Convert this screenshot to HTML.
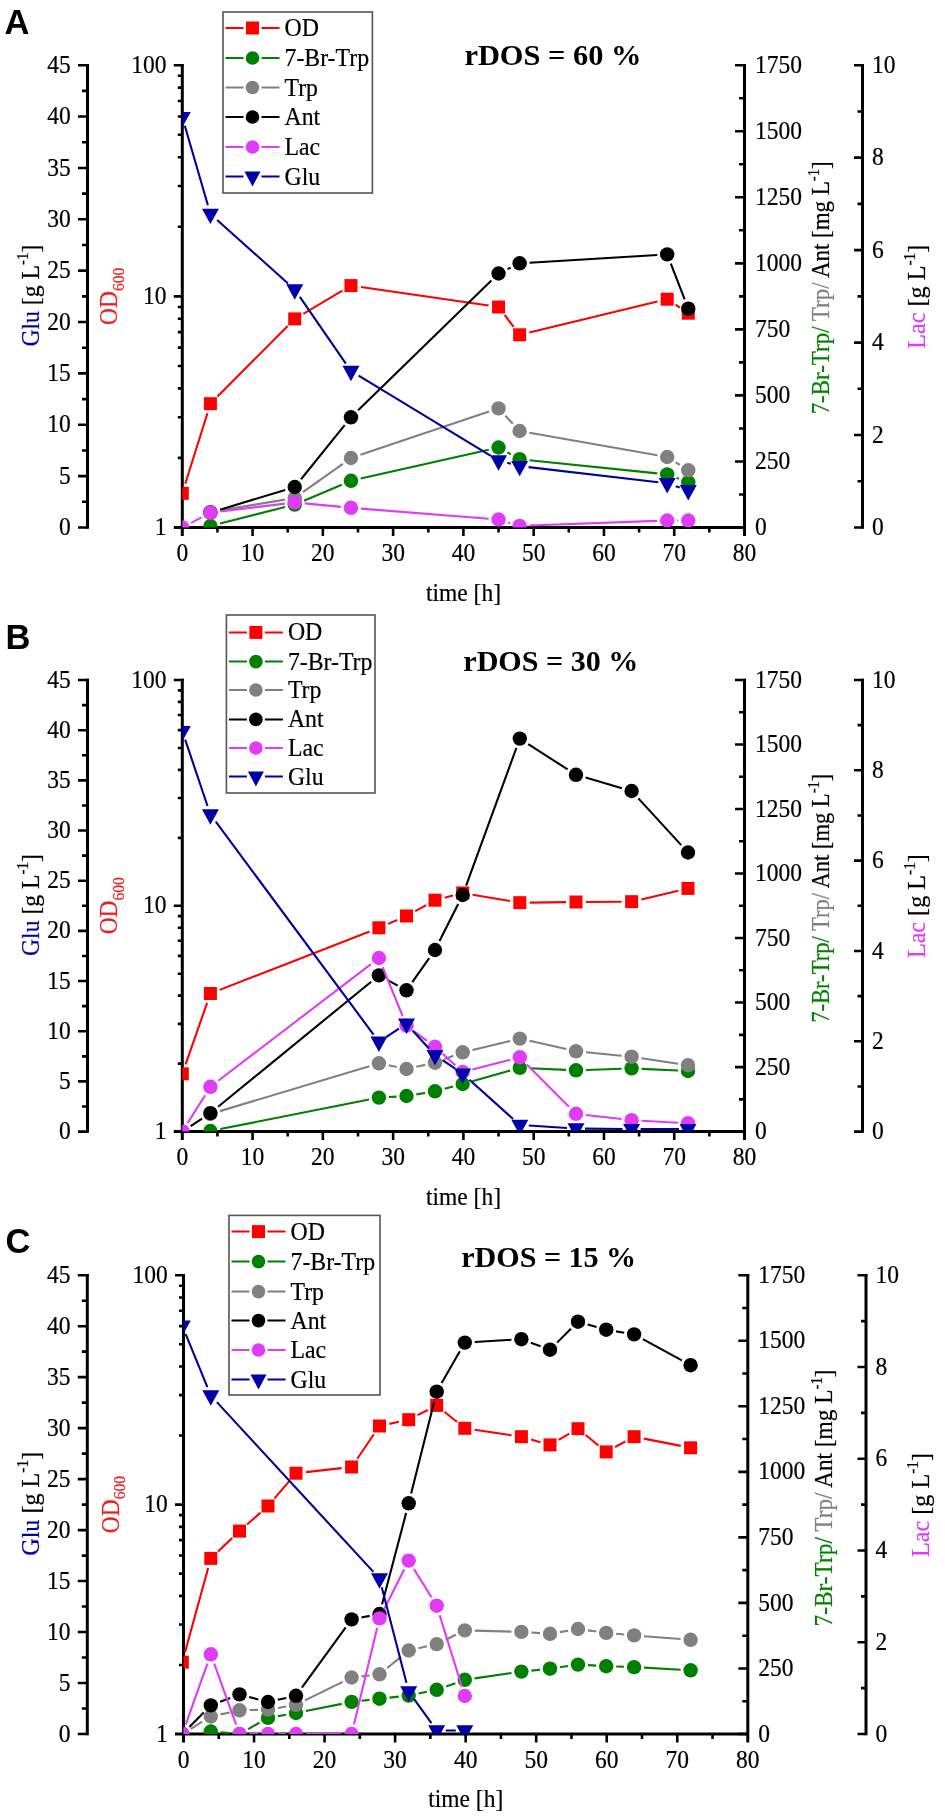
<!DOCTYPE html>
<html><head><meta charset="utf-8"><title>rDOS</title>
<style>html,body{margin:0;padding:0;background:#fff;}svg{display:block;filter:blur(0.35px);}text.s{stroke-width:0.45px;paint-order:stroke;}</style>
</head><body>
<svg width="945" height="1820" viewBox="0 0 945 1820">
<rect width="945" height="1820" fill="#fff"/>
<clipPath id="clipA"><rect x="182.3" y="65.2" width="562.2" height="462.3"/></clipPath><path d="M87.5 64V528.7M182.3 64V536M744.5 64V536M862.5 64V528.7M173.8 527.5H745.9" stroke="#000" stroke-width="3.0" fill="none"/><path d="M78 527.5H87.5M78 476.13H87.5M78 424.77H87.5M78 373.4H87.5M78 322.03H87.5M78 270.67H87.5M78 219.3H87.5M78 167.93H87.5M78 116.57H87.5M78 65.2H87.5M78 65.2H88.9M82 501.82H87.5M82 450.45H87.5M82 399.08H87.5M82 347.72H87.5M82 296.35H87.5M82 244.98H87.5M82 193.62H87.5M82 142.25H87.5M82 90.88H87.5M173.8 296.35H182.3M173.8 65.2H183.7M177.8 457.92H182.3M177.8 417.21H182.3M177.8 388.33H182.3M177.8 365.93H182.3M177.8 347.63H182.3M177.8 332.16H182.3M177.8 318.75H182.3M177.8 306.93H182.3M177.8 226.77H182.3M177.8 186.06H182.3M177.8 157.18H182.3M177.8 134.78H182.3M177.8 116.48H182.3M177.8 101.01H182.3M177.8 87.6H182.3M177.8 75.78H182.3M252.58 527.5V536M322.85 527.5V536M393.12 527.5V536M463.4 527.5V536M533.68 527.5V536M603.95 527.5V536M674.23 527.5V536M217.44 527.5V532.5M287.71 527.5V532.5M357.99 527.5V532.5M428.26 527.5V532.5M498.54 527.5V532.5M568.81 527.5V532.5M639.09 527.5V532.5M709.36 527.5V532.5M735 527.5H744.5M735 461.46H744.5M735 395.41H744.5M735 329.37H744.5M735 263.33H744.5M735 197.29H744.5M735 131.24H744.5M735 65.2H744.5M735 65.2H745.9M739 494.48H744.5M739 428.44H744.5M739 362.39H744.5M739 296.35H744.5M739 230.31H744.5M739 164.26H744.5M739 98.22H744.5M854 527.5H862.5M854 435.04H862.5M854 342.58H862.5M854 250.12H862.5M854 157.66H862.5M854 65.2H863.9M857.5 481.27H862.5M857.5 388.81H862.5M857.5 296.35H862.5M857.5 203.89H862.5M857.5 111.43H862.5" stroke="#000" stroke-width="2.6" fill="none"/><text transform="translate(70.8 535.1) scale(1 1.06)" font-family='"Liberation Serif", serif' font-size="23.5" text-anchor="end" fill="#000" stroke="#000" stroke-width="0.2" font-weight="normal">0</text><text transform="translate(70.8 483.73) scale(1 1.06)" font-family='"Liberation Serif", serif' font-size="23.5" text-anchor="end" fill="#000" stroke="#000" stroke-width="0.2" font-weight="normal">5</text><text transform="translate(70.8 432.37) scale(1 1.06)" font-family='"Liberation Serif", serif' font-size="23.5" text-anchor="end" fill="#000" stroke="#000" stroke-width="0.2" font-weight="normal">10</text><text transform="translate(70.8 381) scale(1 1.06)" font-family='"Liberation Serif", serif' font-size="23.5" text-anchor="end" fill="#000" stroke="#000" stroke-width="0.2" font-weight="normal">15</text><text transform="translate(70.8 329.63) scale(1 1.06)" font-family='"Liberation Serif", serif' font-size="23.5" text-anchor="end" fill="#000" stroke="#000" stroke-width="0.2" font-weight="normal">20</text><text transform="translate(70.8 278.27) scale(1 1.06)" font-family='"Liberation Serif", serif' font-size="23.5" text-anchor="end" fill="#000" stroke="#000" stroke-width="0.2" font-weight="normal">25</text><text transform="translate(70.8 226.9) scale(1 1.06)" font-family='"Liberation Serif", serif' font-size="23.5" text-anchor="end" fill="#000" stroke="#000" stroke-width="0.2" font-weight="normal">30</text><text transform="translate(70.8 175.53) scale(1 1.06)" font-family='"Liberation Serif", serif' font-size="23.5" text-anchor="end" fill="#000" stroke="#000" stroke-width="0.2" font-weight="normal">35</text><text transform="translate(70.8 124.17) scale(1 1.06)" font-family='"Liberation Serif", serif' font-size="23.5" text-anchor="end" fill="#000" stroke="#000" stroke-width="0.2" font-weight="normal">40</text><text transform="translate(70.8 72.8) scale(1 1.06)" font-family='"Liberation Serif", serif' font-size="23.5" text-anchor="end" fill="#000" stroke="#000" stroke-width="0.2" font-weight="normal">45</text><text transform="translate(166.5 535.1) scale(1 1.06)" font-family='"Liberation Serif", serif' font-size="23.5" text-anchor="end" fill="#000" stroke="#000" stroke-width="0.2" font-weight="normal">1</text><text transform="translate(166.5 303.95) scale(1 1.06)" font-family='"Liberation Serif", serif' font-size="23.5" text-anchor="end" fill="#000" stroke="#000" stroke-width="0.2" font-weight="normal">10</text><text transform="translate(166.5 72.8) scale(1 1.06)" font-family='"Liberation Serif", serif' font-size="23.5" text-anchor="end" fill="#000" stroke="#000" stroke-width="0.2" font-weight="normal">100</text><text transform="translate(182.3 561) scale(1 1.06)" font-family='"Liberation Serif", serif' font-size="23.5" text-anchor="middle" fill="#000" stroke="#000" stroke-width="0.2" font-weight="normal">0</text><text transform="translate(252.58 561) scale(1 1.06)" font-family='"Liberation Serif", serif' font-size="23.5" text-anchor="middle" fill="#000" stroke="#000" stroke-width="0.2" font-weight="normal">10</text><text transform="translate(322.85 561) scale(1 1.06)" font-family='"Liberation Serif", serif' font-size="23.5" text-anchor="middle" fill="#000" stroke="#000" stroke-width="0.2" font-weight="normal">20</text><text transform="translate(393.12 561) scale(1 1.06)" font-family='"Liberation Serif", serif' font-size="23.5" text-anchor="middle" fill="#000" stroke="#000" stroke-width="0.2" font-weight="normal">30</text><text transform="translate(463.4 561) scale(1 1.06)" font-family='"Liberation Serif", serif' font-size="23.5" text-anchor="middle" fill="#000" stroke="#000" stroke-width="0.2" font-weight="normal">40</text><text transform="translate(533.68 561) scale(1 1.06)" font-family='"Liberation Serif", serif' font-size="23.5" text-anchor="middle" fill="#000" stroke="#000" stroke-width="0.2" font-weight="normal">50</text><text transform="translate(603.95 561) scale(1 1.06)" font-family='"Liberation Serif", serif' font-size="23.5" text-anchor="middle" fill="#000" stroke="#000" stroke-width="0.2" font-weight="normal">60</text><text transform="translate(674.23 561) scale(1 1.06)" font-family='"Liberation Serif", serif' font-size="23.5" text-anchor="middle" fill="#000" stroke="#000" stroke-width="0.2" font-weight="normal">70</text><text transform="translate(744.5 561) scale(1 1.06)" font-family='"Liberation Serif", serif' font-size="23.5" text-anchor="middle" fill="#000" stroke="#000" stroke-width="0.2" font-weight="normal">80</text><text transform="translate(755 535.1) scale(1 1.06)" font-family='"Liberation Serif", serif' font-size="23.5" text-anchor="start" fill="#000" stroke="#000" stroke-width="0.2" font-weight="normal">0</text><text transform="translate(755 469.06) scale(1 1.06)" font-family='"Liberation Serif", serif' font-size="23.5" text-anchor="start" fill="#000" stroke="#000" stroke-width="0.2" font-weight="normal">250</text><text transform="translate(755 403.01) scale(1 1.06)" font-family='"Liberation Serif", serif' font-size="23.5" text-anchor="start" fill="#000" stroke="#000" stroke-width="0.2" font-weight="normal">500</text><text transform="translate(755 336.97) scale(1 1.06)" font-family='"Liberation Serif", serif' font-size="23.5" text-anchor="start" fill="#000" stroke="#000" stroke-width="0.2" font-weight="normal">750</text><text transform="translate(755 270.93) scale(1 1.06)" font-family='"Liberation Serif", serif' font-size="23.5" text-anchor="start" fill="#000" stroke="#000" stroke-width="0.2" font-weight="normal">1000</text><text transform="translate(755 204.89) scale(1 1.06)" font-family='"Liberation Serif", serif' font-size="23.5" text-anchor="start" fill="#000" stroke="#000" stroke-width="0.2" font-weight="normal">1250</text><text transform="translate(755 138.84) scale(1 1.06)" font-family='"Liberation Serif", serif' font-size="23.5" text-anchor="start" fill="#000" stroke="#000" stroke-width="0.2" font-weight="normal">1500</text><text transform="translate(755 72.8) scale(1 1.06)" font-family='"Liberation Serif", serif' font-size="23.5" text-anchor="start" fill="#000" stroke="#000" stroke-width="0.2" font-weight="normal">1750</text><text transform="translate(872 535.1) scale(1 1.06)" font-family='"Liberation Serif", serif' font-size="23.5" text-anchor="start" fill="#000" stroke="#000" stroke-width="0.2" font-weight="normal">0</text><text transform="translate(872 442.64) scale(1 1.06)" font-family='"Liberation Serif", serif' font-size="23.5" text-anchor="start" fill="#000" stroke="#000" stroke-width="0.2" font-weight="normal">2</text><text transform="translate(872 350.18) scale(1 1.06)" font-family='"Liberation Serif", serif' font-size="23.5" text-anchor="start" fill="#000" stroke="#000" stroke-width="0.2" font-weight="normal">4</text><text transform="translate(872 257.72) scale(1 1.06)" font-family='"Liberation Serif", serif' font-size="23.5" text-anchor="start" fill="#000" stroke="#000" stroke-width="0.2" font-weight="normal">6</text><text transform="translate(872 165.26) scale(1 1.06)" font-family='"Liberation Serif", serif' font-size="23.5" text-anchor="start" fill="#000" stroke="#000" stroke-width="0.2" font-weight="normal">8</text><text transform="translate(872 72.8) scale(1 1.06)" font-family='"Liberation Serif", serif' font-size="23.5" text-anchor="start" fill="#000" stroke="#000" stroke-width="0.2" font-weight="normal">10</text><text transform="translate(463.5 600.8) scale(1 1.1)" font-family='"Liberation Serif", serif' font-size="23.5" text-anchor="middle" fill="#000" stroke="#000" stroke-width="0.2" font-weight="normal">time [h]</text><text transform="translate(38.6 295.55) rotate(-90) scale(1 1.08)" font-family='"Liberation Serif", serif' font-size="23.5" text-anchor="middle" stroke="#000" stroke-width="0.2" textLength="102" lengthAdjust="spacingAndGlyphs"><tspan fill="#0000a8" stroke="#0000a8">Glu</tspan><tspan fill="#000" stroke="#000"> [g L</tspan><tspan font-size="15" dy="-9.5">-1</tspan><tspan dy="9.5">]</tspan></text><text transform="translate(117.3 296.35) rotate(-90) scale(1 1.08)" font-family='"Liberation Serif", serif' font-size="23.5" text-anchor="middle" fill="#ee1c1c" stroke="#ee1c1c" stroke-width="0.2">OD<tspan font-size="15.5" dy="6">600</tspan></text><text transform="translate(828.8 287.85) rotate(-90) scale(1 1.08)" font-family='"Liberation Serif", serif' font-size="23.5" text-anchor="middle" stroke="#000" stroke-width="0.2" textLength="253" lengthAdjust="spacingAndGlyphs"><tspan fill="#008000" stroke="#008000">7-Br-Trp/</tspan><tspan fill="#808080" stroke="#808080"> Trp/</tspan><tspan fill="#000" stroke="#000"> Ant [mg L</tspan><tspan font-size="15" dy="-9.5">-1</tspan><tspan dy="9.5">]</tspan></text><text transform="translate(925 296.65) rotate(-90) scale(1 1.08)" font-family='"Liberation Serif", serif' font-size="23.5" text-anchor="middle" stroke="#000" stroke-width="0.2" textLength="104" lengthAdjust="spacingAndGlyphs"><tspan fill="#e03cf8" stroke="#e03cf8">Lac</tspan><tspan fill="#000" stroke="#000"> [g L</tspan><tspan font-size="15" dy="-9.5">-1</tspan><tspan dy="9.5">]</tspan></text><text x="4.4" y="34.3" font-family='"Liberation Sans", sans-serif' font-size="34.5" text-anchor="start" fill="#000" stroke="#000" stroke-width="0" font-weight="bold">A</text><text x="464.4" y="65.4" font-family='"Liberation Serif", serif' font-size="29.5" text-anchor="start" fill="#000" stroke="#000" stroke-width="0" font-weight="bold" textLength="177" lengthAdjust="spacingAndGlyphs">rDOS = 60 %</text><g clip-path="url(#clipA)"><path d="M185.29 483.76L207.42 413.24M217.46 396.61L287.69 325.99M303.34 313.8L342.36 290.7M360.86 287.04L488.64 305.56M504.58 314.97L513.58 326.83M529.34 332.45L657.48 301.55M675.53 304.73L679.95 307.67" stroke="#ff0000" stroke-width="2.1" fill="none"/><rect x="175.8" y="486.8" width="13.0" height="13.0" fill="#ff0000"/><rect x="203.91" y="397.2" width="13.0" height="13.0" fill="#ff0000"/><rect x="288.24" y="312.4" width="13.0" height="13.0" fill="#ff0000"/><rect x="344.46" y="279.1" width="13.0" height="13.0" fill="#ff0000"/><rect x="492.04" y="300.5" width="13.0" height="13.0" fill="#ff0000"/><rect x="513.12" y="328.3" width="13.0" height="13.0" fill="#ff0000"/><rect x="660.7" y="292.7" width="13.0" height="13.0" fill="#ff0000"/><rect x="681.78" y="306.7" width="13.0" height="13.0" fill="#ff0000"/><path d="M220.1 523.54L285.05 507.06M303.95 500.7L341.75 484.7M360.71 478.6L488.78 449.7M507.28 452.35L510.88 454.35M529.57 460.22L657.25 473.38M676.55 477.95L678.93 478.85" stroke="#008000" stroke-width="2.1" fill="none"/><circle cx="210.41" cy="526" r="7.2" fill="#008000"/><circle cx="294.74" cy="504.6" r="7.2" fill="#008000"/><circle cx="350.96" cy="480.8" r="7.2" fill="#008000"/><circle cx="498.54" cy="447.5" r="7.2" fill="#008000"/><circle cx="519.62" cy="459.2" r="7.2" fill="#008000"/><circle cx="667.2" cy="474.4" r="7.2" fill="#008000"/><circle cx="688.28" cy="482.4" r="7.2" fill="#008000"/><path d="M220.27 510.36L284.88 499.64M302.89 492.2L342.81 463.8M360.44 454.81L489.06 411.59M505.36 415.71L512.8 423.69M529.47 432.74L657.35 455.26M675.66 462.34L679.82 464.96" stroke="#808080" stroke-width="2.1" fill="none"/><circle cx="210.41" cy="512" r="7.2" fill="#808080"/><circle cx="294.74" cy="498" r="7.2" fill="#808080"/><circle cx="350.96" cy="458" r="7.2" fill="#808080"/><circle cx="498.54" cy="408.4" r="7.2" fill="#808080"/><circle cx="519.62" cy="431" r="7.2" fill="#808080"/><circle cx="667.2" cy="457" r="7.2" fill="#808080"/><circle cx="688.28" cy="470.3" r="7.2" fill="#808080"/><path d="M219.98 509.7L285.17 489.9M301.02 479.22L344.68 425.08M358.12 410.32L491.38 280.48M507.54 269.14L510.62 267.66M529.6 262.7L657.22 255M670.82 263.72L684.66 299.38" stroke="#000000" stroke-width="2.1" fill="none"/><circle cx="210.41" cy="512.6" r="7.2" fill="#000000"/><circle cx="294.74" cy="487" r="7.2" fill="#000000"/><circle cx="350.96" cy="417.3" r="7.2" fill="#000000"/><circle cx="498.54" cy="273.5" r="7.2" fill="#000000"/><circle cx="519.62" cy="263.3" r="7.2" fill="#000000"/><circle cx="667.2" cy="254.4" r="7.2" fill="#000000"/><circle cx="688.28" cy="308.7" r="7.2" fill="#000000"/><path d="M191.16 522.87L201.55 517.43M220.33 511.58L284.82 503.62M304.69 503.36L341.01 506.84M360.93 508.59L488.57 518.71M508.11 522.4L510.05 523M529.61 525.53L657.2 520.87M677.2 520.5L678.28 520.5" stroke="#e03cf8" stroke-width="2.1" fill="none"/><circle cx="182.3" cy="527.5" r="7.2" fill="#e03cf8"/><circle cx="210.41" cy="512.8" r="7.2" fill="#e03cf8"/><circle cx="294.74" cy="502.4" r="7.2" fill="#e03cf8"/><circle cx="350.96" cy="507.8" r="7.2" fill="#e03cf8"/><circle cx="498.54" cy="519.5" r="7.2" fill="#e03cf8"/><circle cx="519.62" cy="525.9" r="7.2" fill="#e03cf8"/><circle cx="667.2" cy="520.5" r="7.2" fill="#e03cf8"/><circle cx="688.28" cy="520.5" r="7.2" fill="#e03cf8"/><path d="M184.81 125.74L207.9 205.26M217.11 219.91L288.04 283.49M299.85 296.91L345.85 363.59M358.66 375.67L490.84 455.83M507.24 462.81L510.92 463.79M528.56 467.14L658.26 482.26M675.74 486.14L679.74 487.46" stroke="#00009a" stroke-width="2.1" fill="none"/><path d="M173.8 111.9L190.8 111.9L182.3 127.3ZM201.91 208.7L218.91 208.7L210.41 224.1ZM286.24 284.3L303.24 284.3L294.74 299.7ZM342.46 365.8L359.46 365.8L350.96 381.2ZM490.04 455.3L507.04 455.3L498.54 470.7ZM511.12 460.9L528.12 460.9L519.62 476.3ZM658.7 478.1L675.7 478.1L667.2 493.5ZM679.78 485.1L696.78 485.1L688.28 500.5Z" fill="#0000a8"/></g><rect x="223" y="12" width="149.4" height="181" fill="#fff" stroke="#555" stroke-width="1.6"/><path d="M225.5 28H243.5M261.5 28H279.5" stroke="#ff0000" stroke-width="2"/><rect x="246" y="21.5" width="13.0" height="13.0" fill="#ff0000"/><text transform="translate(284.5 36) scale(1 1.03)" font-family='"Liberation Serif", serif' font-size="23.8" text-anchor="start" fill="#000" stroke="#000" stroke-width="0.2" font-weight="normal">OD</text><path d="M225.5 58H243.5M261.5 58H279.5" stroke="#008000" stroke-width="2"/><circle cx="252.5" cy="58" r="6.8" fill="#008000"/><text transform="translate(284.5 66) scale(1 1.03)" font-family='"Liberation Serif", serif' font-size="23.8" text-anchor="start" fill="#000" stroke="#000" stroke-width="0.2" font-weight="normal">7-Br-Trp</text><path d="M225.5 87.5H243.5M261.5 87.5H279.5" stroke="#808080" stroke-width="2"/><circle cx="252.5" cy="87.5" r="6.8" fill="#808080"/><text transform="translate(284.5 95.5) scale(1 1.03)" font-family='"Liberation Serif", serif' font-size="23.8" text-anchor="start" fill="#000" stroke="#000" stroke-width="0.2" font-weight="normal">Trp</text><path d="M225.5 117H243.5M261.5 117H279.5" stroke="#000000" stroke-width="2"/><circle cx="252.5" cy="117" r="6.8" fill="#000000"/><text transform="translate(284.5 125) scale(1 1.03)" font-family='"Liberation Serif", serif' font-size="23.8" text-anchor="start" fill="#000" stroke="#000" stroke-width="0.2" font-weight="normal">Ant</text><path d="M225.5 147H243.5M261.5 147H279.5" stroke="#e03cf8" stroke-width="2"/><circle cx="252.5" cy="147" r="6.8" fill="#e03cf8"/><text transform="translate(284.5 155) scale(1 1.03)" font-family='"Liberation Serif", serif' font-size="23.8" text-anchor="start" fill="#000" stroke="#000" stroke-width="0.2" font-weight="normal">Lac</text><path d="M225.5 176.5H243.5M261.5 176.5H279.5" stroke="#0000a8" stroke-width="2"/><path d="M244.5 171.4L260.5 171.4L252.5 186.4Z" fill="#0000a8"/><text transform="translate(284.5 184.5) scale(1 1.03)" font-family='"Liberation Serif", serif' font-size="23.8" text-anchor="start" fill="#000" stroke="#000" stroke-width="0.2" font-weight="normal">Glu</text><clipPath id="clipB"><rect x="182.3" y="680" width="562.2" height="451.6"/></clipPath><path d="M87.5 678.8V1132.8M182.3 678.8V1140.1M744.5 678.8V1140.1M862.5 678.8V1132.8M173.8 1131.6H745.9" stroke="#000" stroke-width="3.0" fill="none"/><path d="M78 1131.6H87.5M78 1081.42H87.5M78 1031.24H87.5M78 981.07H87.5M78 930.89H87.5M78 880.71H87.5M78 830.53H87.5M78 780.36H87.5M78 730.18H87.5M78 680H87.5M78 680H88.9M82 1106.51H87.5M82 1056.33H87.5M82 1006.16H87.5M82 955.98H87.5M82 905.8H87.5M82 855.62H87.5M82 805.44H87.5M82 755.27H87.5M82 705.09H87.5M173.8 905.8H182.3M173.8 680H183.7M177.8 1063.63H182.3M177.8 1023.87H182.3M177.8 995.65H182.3M177.8 973.77H182.3M177.8 955.89H182.3M177.8 940.78H182.3M177.8 927.68H182.3M177.8 916.13H182.3M177.8 837.83H182.3M177.8 798.07H182.3M177.8 769.85H182.3M177.8 747.97H182.3M177.8 730.09H182.3M177.8 714.98H182.3M177.8 701.88H182.3M177.8 690.33H182.3M252.58 1131.6V1140.1M322.85 1131.6V1140.1M393.12 1131.6V1140.1M463.4 1131.6V1140.1M533.68 1131.6V1140.1M603.95 1131.6V1140.1M674.23 1131.6V1140.1M217.44 1131.6V1136.6M287.71 1131.6V1136.6M357.99 1131.6V1136.6M428.26 1131.6V1136.6M498.54 1131.6V1136.6M568.81 1131.6V1136.6M639.09 1131.6V1136.6M709.36 1131.6V1136.6M735 1131.6H744.5M735 1067.09H744.5M735 1002.57H744.5M735 938.06H744.5M735 873.54H744.5M735 809.03H744.5M735 744.51H744.5M735 680H744.5M735 680H745.9M739 1099.34H744.5M739 1034.83H744.5M739 970.31H744.5M739 905.8H744.5M739 841.29H744.5M739 776.77H744.5M739 712.26H744.5M854 1131.6H862.5M854 1041.28H862.5M854 950.96H862.5M854 860.64H862.5M854 770.32H862.5M854 680H863.9M857.5 1086.44H862.5M857.5 996.12H862.5M857.5 905.8H862.5M857.5 815.48H862.5M857.5 725.16H862.5" stroke="#000" stroke-width="2.6" fill="none"/><text transform="translate(70.8 1139.2) scale(1 1.06)" font-family='"Liberation Serif", serif' font-size="23.5" text-anchor="end" fill="#000" stroke="#000" stroke-width="0.2" font-weight="normal">0</text><text transform="translate(70.8 1089.02) scale(1 1.06)" font-family='"Liberation Serif", serif' font-size="23.5" text-anchor="end" fill="#000" stroke="#000" stroke-width="0.2" font-weight="normal">5</text><text transform="translate(70.8 1038.84) scale(1 1.06)" font-family='"Liberation Serif", serif' font-size="23.5" text-anchor="end" fill="#000" stroke="#000" stroke-width="0.2" font-weight="normal">10</text><text transform="translate(70.8 988.67) scale(1 1.06)" font-family='"Liberation Serif", serif' font-size="23.5" text-anchor="end" fill="#000" stroke="#000" stroke-width="0.2" font-weight="normal">15</text><text transform="translate(70.8 938.49) scale(1 1.06)" font-family='"Liberation Serif", serif' font-size="23.5" text-anchor="end" fill="#000" stroke="#000" stroke-width="0.2" font-weight="normal">20</text><text transform="translate(70.8 888.31) scale(1 1.06)" font-family='"Liberation Serif", serif' font-size="23.5" text-anchor="end" fill="#000" stroke="#000" stroke-width="0.2" font-weight="normal">25</text><text transform="translate(70.8 838.13) scale(1 1.06)" font-family='"Liberation Serif", serif' font-size="23.5" text-anchor="end" fill="#000" stroke="#000" stroke-width="0.2" font-weight="normal">30</text><text transform="translate(70.8 787.96) scale(1 1.06)" font-family='"Liberation Serif", serif' font-size="23.5" text-anchor="end" fill="#000" stroke="#000" stroke-width="0.2" font-weight="normal">35</text><text transform="translate(70.8 737.78) scale(1 1.06)" font-family='"Liberation Serif", serif' font-size="23.5" text-anchor="end" fill="#000" stroke="#000" stroke-width="0.2" font-weight="normal">40</text><text transform="translate(70.8 687.6) scale(1 1.06)" font-family='"Liberation Serif", serif' font-size="23.5" text-anchor="end" fill="#000" stroke="#000" stroke-width="0.2" font-weight="normal">45</text><text transform="translate(166.5 1139.2) scale(1 1.06)" font-family='"Liberation Serif", serif' font-size="23.5" text-anchor="end" fill="#000" stroke="#000" stroke-width="0.2" font-weight="normal">1</text><text transform="translate(166.5 913.4) scale(1 1.06)" font-family='"Liberation Serif", serif' font-size="23.5" text-anchor="end" fill="#000" stroke="#000" stroke-width="0.2" font-weight="normal">10</text><text transform="translate(166.5 687.6) scale(1 1.06)" font-family='"Liberation Serif", serif' font-size="23.5" text-anchor="end" fill="#000" stroke="#000" stroke-width="0.2" font-weight="normal">100</text><text transform="translate(182.3 1165.1) scale(1 1.06)" font-family='"Liberation Serif", serif' font-size="23.5" text-anchor="middle" fill="#000" stroke="#000" stroke-width="0.2" font-weight="normal">0</text><text transform="translate(252.58 1165.1) scale(1 1.06)" font-family='"Liberation Serif", serif' font-size="23.5" text-anchor="middle" fill="#000" stroke="#000" stroke-width="0.2" font-weight="normal">10</text><text transform="translate(322.85 1165.1) scale(1 1.06)" font-family='"Liberation Serif", serif' font-size="23.5" text-anchor="middle" fill="#000" stroke="#000" stroke-width="0.2" font-weight="normal">20</text><text transform="translate(393.12 1165.1) scale(1 1.06)" font-family='"Liberation Serif", serif' font-size="23.5" text-anchor="middle" fill="#000" stroke="#000" stroke-width="0.2" font-weight="normal">30</text><text transform="translate(463.4 1165.1) scale(1 1.06)" font-family='"Liberation Serif", serif' font-size="23.5" text-anchor="middle" fill="#000" stroke="#000" stroke-width="0.2" font-weight="normal">40</text><text transform="translate(533.68 1165.1) scale(1 1.06)" font-family='"Liberation Serif", serif' font-size="23.5" text-anchor="middle" fill="#000" stroke="#000" stroke-width="0.2" font-weight="normal">50</text><text transform="translate(603.95 1165.1) scale(1 1.06)" font-family='"Liberation Serif", serif' font-size="23.5" text-anchor="middle" fill="#000" stroke="#000" stroke-width="0.2" font-weight="normal">60</text><text transform="translate(674.23 1165.1) scale(1 1.06)" font-family='"Liberation Serif", serif' font-size="23.5" text-anchor="middle" fill="#000" stroke="#000" stroke-width="0.2" font-weight="normal">70</text><text transform="translate(744.5 1165.1) scale(1 1.06)" font-family='"Liberation Serif", serif' font-size="23.5" text-anchor="middle" fill="#000" stroke="#000" stroke-width="0.2" font-weight="normal">80</text><text transform="translate(755 1139.2) scale(1 1.06)" font-family='"Liberation Serif", serif' font-size="23.5" text-anchor="start" fill="#000" stroke="#000" stroke-width="0.2" font-weight="normal">0</text><text transform="translate(755 1074.69) scale(1 1.06)" font-family='"Liberation Serif", serif' font-size="23.5" text-anchor="start" fill="#000" stroke="#000" stroke-width="0.2" font-weight="normal">250</text><text transform="translate(755 1010.17) scale(1 1.06)" font-family='"Liberation Serif", serif' font-size="23.5" text-anchor="start" fill="#000" stroke="#000" stroke-width="0.2" font-weight="normal">500</text><text transform="translate(755 945.66) scale(1 1.06)" font-family='"Liberation Serif", serif' font-size="23.5" text-anchor="start" fill="#000" stroke="#000" stroke-width="0.2" font-weight="normal">750</text><text transform="translate(755 881.14) scale(1 1.06)" font-family='"Liberation Serif", serif' font-size="23.5" text-anchor="start" fill="#000" stroke="#000" stroke-width="0.2" font-weight="normal">1000</text><text transform="translate(755 816.63) scale(1 1.06)" font-family='"Liberation Serif", serif' font-size="23.5" text-anchor="start" fill="#000" stroke="#000" stroke-width="0.2" font-weight="normal">1250</text><text transform="translate(755 752.11) scale(1 1.06)" font-family='"Liberation Serif", serif' font-size="23.5" text-anchor="start" fill="#000" stroke="#000" stroke-width="0.2" font-weight="normal">1500</text><text transform="translate(755 687.6) scale(1 1.06)" font-family='"Liberation Serif", serif' font-size="23.5" text-anchor="start" fill="#000" stroke="#000" stroke-width="0.2" font-weight="normal">1750</text><text transform="translate(872 1139.2) scale(1 1.06)" font-family='"Liberation Serif", serif' font-size="23.5" text-anchor="start" fill="#000" stroke="#000" stroke-width="0.2" font-weight="normal">0</text><text transform="translate(872 1048.88) scale(1 1.06)" font-family='"Liberation Serif", serif' font-size="23.5" text-anchor="start" fill="#000" stroke="#000" stroke-width="0.2" font-weight="normal">2</text><text transform="translate(872 958.56) scale(1 1.06)" font-family='"Liberation Serif", serif' font-size="23.5" text-anchor="start" fill="#000" stroke="#000" stroke-width="0.2" font-weight="normal">4</text><text transform="translate(872 868.24) scale(1 1.06)" font-family='"Liberation Serif", serif' font-size="23.5" text-anchor="start" fill="#000" stroke="#000" stroke-width="0.2" font-weight="normal">6</text><text transform="translate(872 777.92) scale(1 1.06)" font-family='"Liberation Serif", serif' font-size="23.5" text-anchor="start" fill="#000" stroke="#000" stroke-width="0.2" font-weight="normal">8</text><text transform="translate(872 687.6) scale(1 1.06)" font-family='"Liberation Serif", serif' font-size="23.5" text-anchor="start" fill="#000" stroke="#000" stroke-width="0.2" font-weight="normal">10</text><text transform="translate(463.5 1204.9) scale(1 1.1)" font-family='"Liberation Serif", serif' font-size="23.5" text-anchor="middle" fill="#000" stroke="#000" stroke-width="0.2" font-weight="normal">time [h]</text><text transform="translate(38.6 905) rotate(-90) scale(1 1.08)" font-family='"Liberation Serif", serif' font-size="23.5" text-anchor="middle" stroke="#000" stroke-width="0.2" textLength="102" lengthAdjust="spacingAndGlyphs"><tspan fill="#0000a8" stroke="#0000a8">Glu</tspan><tspan fill="#000" stroke="#000"> [g L</tspan><tspan font-size="15" dy="-9.5">-1</tspan><tspan dy="9.5">]</tspan></text><text transform="translate(117.3 905.8) rotate(-90) scale(1 1.08)" font-family='"Liberation Serif", serif' font-size="23.5" text-anchor="middle" fill="#ee1c1c" stroke="#ee1c1c" stroke-width="0.2">OD<tspan font-size="15.5" dy="6">600</tspan></text><text transform="translate(828.8 898.3) rotate(-90) scale(1 1.08)" font-family='"Liberation Serif", serif' font-size="23.5" text-anchor="middle" stroke="#000" stroke-width="0.2" textLength="249" lengthAdjust="spacingAndGlyphs"><tspan fill="#008000" stroke="#008000">7-Br-Trp/</tspan><tspan fill="#808080" stroke="#808080"> Trp/</tspan><tspan fill="#000" stroke="#000"> Ant [mg L</tspan><tspan font-size="15" dy="-9.5">-1</tspan><tspan dy="9.5">]</tspan></text><text transform="translate(925 906.1) rotate(-90) scale(1 1.08)" font-family='"Liberation Serif", serif' font-size="23.5" text-anchor="middle" stroke="#000" stroke-width="0.2" textLength="104" lengthAdjust="spacingAndGlyphs"><tspan fill="#e03cf8" stroke="#e03cf8">Lac</tspan><tspan fill="#000" stroke="#000"> [g L</tspan><tspan font-size="15" dy="-9.5">-1</tspan><tspan dy="9.5">]</tspan></text><text x="5.4" y="648.6" font-family='"Liberation Sans", sans-serif' font-size="34.5" text-anchor="start" fill="#000" stroke="#000" stroke-width="0" font-weight="bold">B</text><text x="463.3" y="671.1" font-family='"Liberation Serif", serif' font-size="29.5" text-anchor="start" fill="#000" stroke="#000" stroke-width="0" font-weight="bold" textLength="175" lengthAdjust="spacingAndGlyphs">rDOS = 30 %</text><g clip-path="url(#clipB)"><path d="M185.6 1064.36L207.1 1002.94M219.72 989.87L369.58 931.43M388.09 923.87L397.31 919.93M415.25 911.15L426.25 905.05M444.68 897.68L453.02 895.52M472.56 894.67L509.94 901.03M529.8 902.58L566 902.12M586 901.95L621.6 901.75M641.33 899.4L678.27 890.7" stroke="#ff0000" stroke-width="2.1" fill="none"/><rect x="175.8" y="1067.3" width="13.0" height="13.0" fill="#ff0000"/><rect x="203.9" y="987" width="13.0" height="13.0" fill="#ff0000"/><rect x="372.4" y="921.3" width="13.0" height="13.0" fill="#ff0000"/><rect x="400" y="909.5" width="13.0" height="13.0" fill="#ff0000"/><rect x="428.5" y="893.7" width="13.0" height="13.0" fill="#ff0000"/><rect x="456.2" y="886.5" width="13.0" height="13.0" fill="#ff0000"/><rect x="513.3" y="896.2" width="13.0" height="13.0" fill="#ff0000"/><rect x="569.5" y="895.5" width="13.0" height="13.0" fill="#ff0000"/><rect x="625.1" y="895.2" width="13.0" height="13.0" fill="#ff0000"/><rect x="681.5" y="881.9" width="13.0" height="13.0" fill="#ff0000"/><path d="M220.21 1129.06L369.09 1099.54M388.88 1097.02L396.52 1096.58M416.37 1094.37L425.13 1092.93M444.67 1088.75L453.03 1086.55M472.32 1081.27L510.18 1070.53M529.79 1068.24L566.01 1069.86M585.99 1069.96L621.61 1068.74M641.59 1068.86L678.01 1070.54" stroke="#008000" stroke-width="2.1" fill="none"/><circle cx="210.4" cy="1131" r="7.2" fill="#008000"/><circle cx="378.9" cy="1097.6" r="7.2" fill="#008000"/><circle cx="406.5" cy="1096" r="7.2" fill="#008000"/><circle cx="435" cy="1091.3" r="7.2" fill="#008000"/><circle cx="462.7" cy="1084" r="7.2" fill="#008000"/><circle cx="519.8" cy="1067.8" r="7.2" fill="#008000"/><circle cx="576" cy="1070.3" r="7.2" fill="#008000"/><circle cx="631.6" cy="1068.4" r="7.2" fill="#008000"/><circle cx="688" cy="1071" r="7.2" fill="#008000"/><path d="M219.98 1111.12L369.32 1066.18M388.69 1065.32L396.71 1066.98M416.26 1066.84L425.24 1064.86M444.36 1059.19L453.34 1055.81M472.42 1049.97L510.08 1040.93M529.55 1040.8L566.25 1049.1M585.95 1052.27L621.65 1055.73M641.49 1058.19L678.11 1063.71" stroke="#808080" stroke-width="2.1" fill="none"/><circle cx="210.4" cy="1114" r="7.2" fill="#808080"/><circle cx="378.9" cy="1063.3" r="7.2" fill="#808080"/><circle cx="406.5" cy="1069" r="7.2" fill="#808080"/><circle cx="435" cy="1062.7" r="7.2" fill="#808080"/><circle cx="462.7" cy="1052.3" r="7.2" fill="#808080"/><circle cx="519.8" cy="1038.6" r="7.2" fill="#808080"/><circle cx="576" cy="1051.3" r="7.2" fill="#808080"/><circle cx="631.6" cy="1056.7" r="7.2" fill="#808080"/><circle cx="688" cy="1065.2" r="7.2" fill="#808080"/><path d="M190.65 1126.1L202.05 1118.6M218.14 1106.77L371.16 981.73M387.7 980.15L397.7 985.55M412.27 982.14L429.23 958.16M439.5 941.07L458.2 903.93M466.13 885.61L516.37 747.99M528.21 744.02L567.59 769.38M585.6 777.6L622 788.2M638.36 798.37L681.24 845.13" stroke="#000000" stroke-width="2.1" fill="none"/><circle cx="182.3" cy="1131.6" r="7.2" fill="#000000"/><circle cx="210.4" cy="1113.1" r="7.2" fill="#000000"/><circle cx="378.9" cy="975.4" r="7.2" fill="#000000"/><circle cx="406.5" cy="990.3" r="7.2" fill="#000000"/><circle cx="435" cy="950" r="7.2" fill="#000000"/><circle cx="462.7" cy="895" r="7.2" fill="#000000"/><circle cx="519.8" cy="738.6" r="7.2" fill="#000000"/><circle cx="576" cy="774.8" r="7.2" fill="#000000"/><circle cx="631.6" cy="791" r="7.2" fill="#000000"/><circle cx="688" cy="852.5" r="7.2" fill="#000000"/><path d="M187.61 1123.13L205.09 1095.27M218.34 1080.73L370.96 964.07M382.68 967.26L402.72 1016.34M414.52 1031.57L426.98 1040.83M442.4 1053.53L455.3 1065.27M472.38 1069.51L510.12 1059.79M526.85 1064.39L568.95 1106.71M585.93 1114.94L621.67 1119.06M641.58 1120.75L678.02 1122.75" stroke="#e03cf8" stroke-width="2.1" fill="none"/><circle cx="182.3" cy="1131.6" r="7.2" fill="#e03cf8"/><circle cx="210.4" cy="1086.8" r="7.2" fill="#e03cf8"/><circle cx="378.9" cy="958" r="7.2" fill="#e03cf8"/><circle cx="406.5" cy="1025.6" r="7.2" fill="#e03cf8"/><circle cx="435" cy="1046.8" r="7.2" fill="#e03cf8"/><circle cx="462.7" cy="1072" r="7.2" fill="#e03cf8"/><circle cx="519.8" cy="1057.3" r="7.2" fill="#e03cf8"/><circle cx="576" cy="1113.8" r="7.2" fill="#e03cf8"/><circle cx="631.6" cy="1120.2" r="7.2" fill="#e03cf8"/><circle cx="688" cy="1123.3" r="7.2" fill="#e03cf8"/><path d="M185.17 739.63L207.53 805.97M215.76 821.73L373.54 1034.57M386.44 1036.88L398.96 1028.72M412.55 1030.46L428.95 1048.54M442.48 1060.2L455.22 1068.7M469.39 1079.71L513.11 1118.99M528.78 1125.56L567.02 1127.94M585 1128.6L622.6 1129M640.6 1129.1L679 1129.1" stroke="#00009a" stroke-width="2.1" fill="none"/><path d="M173.8 725.9L190.8 725.9L182.3 741.3ZM201.9 809.3L218.9 809.3L210.4 824.7ZM370.4 1036.6L387.4 1036.6L378.9 1052ZM398 1018.6L415 1018.6L406.5 1034ZM426.5 1050L443.5 1050L435 1065.4ZM454.2 1068.5L471.2 1068.5L462.7 1083.9ZM511.3 1119.8L528.3 1119.8L519.8 1135.2ZM567.5 1123.3L584.5 1123.3L576 1138.7ZM623.1 1123.9L640.1 1123.9L631.6 1139.3ZM679.5 1123.9L696.5 1123.9L688 1139.3Z" fill="#0000a8"/></g><rect x="226.4" y="615" width="148.6" height="178" fill="#fff" stroke="#555" stroke-width="1.6"/><path d="M228.9 632.4H246.9M264.9 632.4H282.9" stroke="#ff0000" stroke-width="2"/><rect x="249.4" y="625.9" width="13.0" height="13.0" fill="#ff0000"/><text transform="translate(287.9 640.4) scale(1 1.03)" font-family='"Liberation Serif", serif' font-size="23.8" text-anchor="start" fill="#000" stroke="#000" stroke-width="0.2" font-weight="normal">OD</text><path d="M228.9 661.6H246.9M264.9 661.6H282.9" stroke="#008000" stroke-width="2"/><circle cx="255.9" cy="661.6" r="6.8" fill="#008000"/><text transform="translate(287.9 669.6) scale(1 1.03)" font-family='"Liberation Serif", serif' font-size="23.8" text-anchor="start" fill="#000" stroke="#000" stroke-width="0.2" font-weight="normal">7-Br-Trp</text><path d="M228.9 690H246.9M264.9 690H282.9" stroke="#808080" stroke-width="2"/><circle cx="255.9" cy="690" r="6.8" fill="#808080"/><text transform="translate(287.9 698) scale(1 1.03)" font-family='"Liberation Serif", serif' font-size="23.8" text-anchor="start" fill="#000" stroke="#000" stroke-width="0.2" font-weight="normal">Trp</text><path d="M228.9 719.4H246.9M264.9 719.4H282.9" stroke="#000000" stroke-width="2"/><circle cx="255.9" cy="719.4" r="6.8" fill="#000000"/><text transform="translate(287.9 727.4) scale(1 1.03)" font-family='"Liberation Serif", serif' font-size="23.8" text-anchor="start" fill="#000" stroke="#000" stroke-width="0.2" font-weight="normal">Ant</text><path d="M228.9 748H246.9M264.9 748H282.9" stroke="#e03cf8" stroke-width="2"/><circle cx="255.9" cy="748" r="6.8" fill="#e03cf8"/><text transform="translate(287.9 756) scale(1 1.03)" font-family='"Liberation Serif", serif' font-size="23.8" text-anchor="start" fill="#000" stroke="#000" stroke-width="0.2" font-weight="normal">Lac</text><path d="M228.9 776.5H246.9M264.9 776.5H282.9" stroke="#0000a8" stroke-width="2"/><path d="M247.9 771.4L263.9 771.4L255.9 786.4Z" fill="#0000a8"/><text transform="translate(287.9 784.5) scale(1 1.03)" font-family='"Liberation Serif", serif' font-size="23.8" text-anchor="start" fill="#000" stroke="#000" stroke-width="0.2" font-weight="normal">Glu</text><clipPath id="clipC"><rect x="183.5" y="1275.2" width="564.3" height="458.8"/></clipPath><path d="M87.3 1274V1735.2M183.5 1274V1742.5M747.8 1274V1742.5M866 1274V1735.2M175 1734H749.2" stroke="#000" stroke-width="3.0" fill="none"/><path d="M77.8 1734H87.3M77.8 1683.02H87.3M77.8 1632.04H87.3M77.8 1581.07H87.3M77.8 1530.09H87.3M77.8 1479.11H87.3M77.8 1428.13H87.3M77.8 1377.16H87.3M77.8 1326.18H87.3M77.8 1275.2H87.3M77.8 1275.2H88.7M81.8 1708.51H87.3M81.8 1657.53H87.3M81.8 1606.56H87.3M81.8 1555.58H87.3M81.8 1504.6H87.3M81.8 1453.62H87.3M81.8 1402.64H87.3M81.8 1351.67H87.3M81.8 1300.69H87.3M175 1504.6H183.5M175 1275.2H184.9M179 1664.94H183.5M179 1624.55H183.5M179 1595.89H183.5M179 1573.66H183.5M179 1555.49H183.5M179 1540.13H183.5M179 1526.83H183.5M179 1515.1H183.5M179 1435.54H183.5M179 1395.15H183.5M179 1366.49H183.5M179 1344.26H183.5M179 1326.09H183.5M179 1310.73H183.5M179 1297.43H183.5M179 1285.7H183.5M254.04 1734V1742.5M324.57 1734V1742.5M395.11 1734V1742.5M465.65 1734V1742.5M536.19 1734V1742.5M606.72 1734V1742.5M677.26 1734V1742.5M218.77 1734V1739M289.31 1734V1739M359.84 1734V1739M430.38 1734V1739M500.92 1734V1739M571.46 1734V1739M641.99 1734V1739M712.53 1734V1739M738.3 1734H747.8M738.3 1668.46H747.8M738.3 1602.91H747.8M738.3 1537.37H747.8M738.3 1471.83H747.8M738.3 1406.29H747.8M738.3 1340.74H747.8M738.3 1275.2H747.8M738.3 1275.2H749.2M742.3 1701.23H747.8M742.3 1635.69H747.8M742.3 1570.14H747.8M742.3 1504.6H747.8M742.3 1439.06H747.8M742.3 1373.51H747.8M742.3 1307.97H747.8M857.5 1734H866M857.5 1642.24H866M857.5 1550.48H866M857.5 1458.72H866M857.5 1366.96H866M857.5 1275.2H867.4M861 1688.12H866M861 1596.36H866M861 1504.6H866M861 1412.84H866M861 1321.08H866" stroke="#000" stroke-width="2.6" fill="none"/><text transform="translate(70.6 1741.6) scale(1 1.06)" font-family='"Liberation Serif", serif' font-size="23.5" text-anchor="end" fill="#000" stroke="#000" stroke-width="0.2" font-weight="normal">0</text><text transform="translate(70.6 1690.62) scale(1 1.06)" font-family='"Liberation Serif", serif' font-size="23.5" text-anchor="end" fill="#000" stroke="#000" stroke-width="0.2" font-weight="normal">5</text><text transform="translate(70.6 1639.64) scale(1 1.06)" font-family='"Liberation Serif", serif' font-size="23.5" text-anchor="end" fill="#000" stroke="#000" stroke-width="0.2" font-weight="normal">10</text><text transform="translate(70.6 1588.67) scale(1 1.06)" font-family='"Liberation Serif", serif' font-size="23.5" text-anchor="end" fill="#000" stroke="#000" stroke-width="0.2" font-weight="normal">15</text><text transform="translate(70.6 1537.69) scale(1 1.06)" font-family='"Liberation Serif", serif' font-size="23.5" text-anchor="end" fill="#000" stroke="#000" stroke-width="0.2" font-weight="normal">20</text><text transform="translate(70.6 1486.71) scale(1 1.06)" font-family='"Liberation Serif", serif' font-size="23.5" text-anchor="end" fill="#000" stroke="#000" stroke-width="0.2" font-weight="normal">25</text><text transform="translate(70.6 1435.73) scale(1 1.06)" font-family='"Liberation Serif", serif' font-size="23.5" text-anchor="end" fill="#000" stroke="#000" stroke-width="0.2" font-weight="normal">30</text><text transform="translate(70.6 1384.76) scale(1 1.06)" font-family='"Liberation Serif", serif' font-size="23.5" text-anchor="end" fill="#000" stroke="#000" stroke-width="0.2" font-weight="normal">35</text><text transform="translate(70.6 1333.78) scale(1 1.06)" font-family='"Liberation Serif", serif' font-size="23.5" text-anchor="end" fill="#000" stroke="#000" stroke-width="0.2" font-weight="normal">40</text><text transform="translate(70.6 1282.8) scale(1 1.06)" font-family='"Liberation Serif", serif' font-size="23.5" text-anchor="end" fill="#000" stroke="#000" stroke-width="0.2" font-weight="normal">45</text><text transform="translate(167.7 1741.6) scale(1 1.06)" font-family='"Liberation Serif", serif' font-size="23.5" text-anchor="end" fill="#000" stroke="#000" stroke-width="0.2" font-weight="normal">1</text><text transform="translate(167.7 1512.2) scale(1 1.06)" font-family='"Liberation Serif", serif' font-size="23.5" text-anchor="end" fill="#000" stroke="#000" stroke-width="0.2" font-weight="normal">10</text><text transform="translate(167.7 1282.8) scale(1 1.06)" font-family='"Liberation Serif", serif' font-size="23.5" text-anchor="end" fill="#000" stroke="#000" stroke-width="0.2" font-weight="normal">100</text><text transform="translate(183.5 1767.5) scale(1 1.06)" font-family='"Liberation Serif", serif' font-size="23.5" text-anchor="middle" fill="#000" stroke="#000" stroke-width="0.2" font-weight="normal">0</text><text transform="translate(254.04 1767.5) scale(1 1.06)" font-family='"Liberation Serif", serif' font-size="23.5" text-anchor="middle" fill="#000" stroke="#000" stroke-width="0.2" font-weight="normal">10</text><text transform="translate(324.57 1767.5) scale(1 1.06)" font-family='"Liberation Serif", serif' font-size="23.5" text-anchor="middle" fill="#000" stroke="#000" stroke-width="0.2" font-weight="normal">20</text><text transform="translate(395.11 1767.5) scale(1 1.06)" font-family='"Liberation Serif", serif' font-size="23.5" text-anchor="middle" fill="#000" stroke="#000" stroke-width="0.2" font-weight="normal">30</text><text transform="translate(465.65 1767.5) scale(1 1.06)" font-family='"Liberation Serif", serif' font-size="23.5" text-anchor="middle" fill="#000" stroke="#000" stroke-width="0.2" font-weight="normal">40</text><text transform="translate(536.19 1767.5) scale(1 1.06)" font-family='"Liberation Serif", serif' font-size="23.5" text-anchor="middle" fill="#000" stroke="#000" stroke-width="0.2" font-weight="normal">50</text><text transform="translate(606.72 1767.5) scale(1 1.06)" font-family='"Liberation Serif", serif' font-size="23.5" text-anchor="middle" fill="#000" stroke="#000" stroke-width="0.2" font-weight="normal">60</text><text transform="translate(677.26 1767.5) scale(1 1.06)" font-family='"Liberation Serif", serif' font-size="23.5" text-anchor="middle" fill="#000" stroke="#000" stroke-width="0.2" font-weight="normal">70</text><text transform="translate(747.8 1767.5) scale(1 1.06)" font-family='"Liberation Serif", serif' font-size="23.5" text-anchor="middle" fill="#000" stroke="#000" stroke-width="0.2" font-weight="normal">80</text><text transform="translate(758.3 1741.6) scale(1 1.06)" font-family='"Liberation Serif", serif' font-size="23.5" text-anchor="start" fill="#000" stroke="#000" stroke-width="0.2" font-weight="normal">0</text><text transform="translate(758.3 1676.06) scale(1 1.06)" font-family='"Liberation Serif", serif' font-size="23.5" text-anchor="start" fill="#000" stroke="#000" stroke-width="0.2" font-weight="normal">250</text><text transform="translate(758.3 1610.51) scale(1 1.06)" font-family='"Liberation Serif", serif' font-size="23.5" text-anchor="start" fill="#000" stroke="#000" stroke-width="0.2" font-weight="normal">500</text><text transform="translate(758.3 1544.97) scale(1 1.06)" font-family='"Liberation Serif", serif' font-size="23.5" text-anchor="start" fill="#000" stroke="#000" stroke-width="0.2" font-weight="normal">750</text><text transform="translate(758.3 1479.43) scale(1 1.06)" font-family='"Liberation Serif", serif' font-size="23.5" text-anchor="start" fill="#000" stroke="#000" stroke-width="0.2" font-weight="normal">1000</text><text transform="translate(758.3 1413.89) scale(1 1.06)" font-family='"Liberation Serif", serif' font-size="23.5" text-anchor="start" fill="#000" stroke="#000" stroke-width="0.2" font-weight="normal">1250</text><text transform="translate(758.3 1348.34) scale(1 1.06)" font-family='"Liberation Serif", serif' font-size="23.5" text-anchor="start" fill="#000" stroke="#000" stroke-width="0.2" font-weight="normal">1500</text><text transform="translate(758.3 1282.8) scale(1 1.06)" font-family='"Liberation Serif", serif' font-size="23.5" text-anchor="start" fill="#000" stroke="#000" stroke-width="0.2" font-weight="normal">1750</text><text transform="translate(875.5 1741.6) scale(1 1.06)" font-family='"Liberation Serif", serif' font-size="23.5" text-anchor="start" fill="#000" stroke="#000" stroke-width="0.2" font-weight="normal">0</text><text transform="translate(875.5 1649.84) scale(1 1.06)" font-family='"Liberation Serif", serif' font-size="23.5" text-anchor="start" fill="#000" stroke="#000" stroke-width="0.2" font-weight="normal">2</text><text transform="translate(875.5 1558.08) scale(1 1.06)" font-family='"Liberation Serif", serif' font-size="23.5" text-anchor="start" fill="#000" stroke="#000" stroke-width="0.2" font-weight="normal">4</text><text transform="translate(875.5 1466.32) scale(1 1.06)" font-family='"Liberation Serif", serif' font-size="23.5" text-anchor="start" fill="#000" stroke="#000" stroke-width="0.2" font-weight="normal">6</text><text transform="translate(875.5 1374.56) scale(1 1.06)" font-family='"Liberation Serif", serif' font-size="23.5" text-anchor="start" fill="#000" stroke="#000" stroke-width="0.2" font-weight="normal">8</text><text transform="translate(875.5 1282.8) scale(1 1.06)" font-family='"Liberation Serif", serif' font-size="23.5" text-anchor="start" fill="#000" stroke="#000" stroke-width="0.2" font-weight="normal">10</text><text transform="translate(465.75 1807.3) scale(1 1.1)" font-family='"Liberation Serif", serif' font-size="23.5" text-anchor="middle" fill="#000" stroke="#000" stroke-width="0.2" font-weight="normal">time [h]</text><text transform="translate(38.6 1503.8) rotate(-90) scale(1 1.08)" font-family='"Liberation Serif", serif' font-size="23.5" text-anchor="middle" stroke="#000" stroke-width="0.2" textLength="104" lengthAdjust="spacingAndGlyphs"><tspan fill="#0000a8" stroke="#0000a8">Glu</tspan><tspan fill="#000" stroke="#000"> [g L</tspan><tspan font-size="15" dy="-9.5">-1</tspan><tspan dy="9.5">]</tspan></text><text transform="translate(118.5 1504.6) rotate(-90) scale(1 1.08)" font-family='"Liberation Serif", serif' font-size="23.5" text-anchor="middle" fill="#ee1c1c" stroke="#ee1c1c" stroke-width="0.2">OD<tspan font-size="15.5" dy="6">600</tspan></text><text transform="translate(832.1 1497.9) rotate(-90) scale(1 1.08)" font-family='"Liberation Serif", serif' font-size="23.5" text-anchor="middle" stroke="#000" stroke-width="0.2" textLength="257" lengthAdjust="spacingAndGlyphs"><tspan fill="#008000" stroke="#008000">7-Br-Trp/</tspan><tspan fill="#808080" stroke="#808080"> Trp/</tspan><tspan fill="#000" stroke="#000"> Ant [mg L</tspan><tspan font-size="15" dy="-9.5">-1</tspan><tspan dy="9.5">]</tspan></text><text transform="translate(928.5 1504.9) rotate(-90) scale(1 1.08)" font-family='"Liberation Serif", serif' font-size="23.5" text-anchor="middle" stroke="#000" stroke-width="0.2" textLength="104" lengthAdjust="spacingAndGlyphs"><tspan fill="#e03cf8" stroke="#e03cf8">Lac</tspan><tspan fill="#000" stroke="#000"> [g L</tspan><tspan font-size="15" dy="-9.5">-1</tspan><tspan dy="9.5">]</tspan></text><text x="5.4" y="1252.6" font-family='"Liberation Sans", sans-serif' font-size="34.5" text-anchor="start" fill="#000" stroke="#000" stroke-width="0" font-weight="bold">C</text><text x="461.2" y="1266.8" font-family='"Liberation Serif", serif' font-size="29.5" text-anchor="start" fill="#000" stroke="#000" stroke-width="0" font-weight="bold" textLength="175" lengthAdjust="spacingAndGlyphs">rDOS = 15 %</text><g clip-path="url(#clipC)"><path d="M184.95 1652.56L208.15 1568.04M218.05 1551.51L232.25 1537.99M247 1524.49L260.5 1512.61M274.49 1498.39L289.51 1480.81M305.94 1472.09L341.66 1468.11M357.23 1458.73L373.87 1434.27M389.28 1423.89L398.92 1421.81M417.61 1415.15L427.79 1409.95M444.45 1411.72L457.05 1421.98M474.69 1429.77L511.51 1435.23M531.01 1439.46L540.39 1442.14M558.66 1439.89L569.34 1433.71M585.72 1435.05L598.48 1445.55M614.98 1447.12L625.32 1441.48M643.91 1438.63L680.79 1445.87" stroke="#ff0000" stroke-width="2.1" fill="none"/><rect x="175.8" y="1655.7" width="13.0" height="13.0" fill="#ff0000"/><rect x="204.3" y="1551.9" width="13.0" height="13.0" fill="#ff0000"/><rect x="233" y="1524.6" width="13.0" height="13.0" fill="#ff0000"/><rect x="261.5" y="1499.5" width="13.0" height="13.0" fill="#ff0000"/><rect x="289.5" y="1466.7" width="13.0" height="13.0" fill="#ff0000"/><rect x="345.1" y="1460.5" width="13.0" height="13.0" fill="#ff0000"/><rect x="373" y="1419.5" width="13.0" height="13.0" fill="#ff0000"/><rect x="402.2" y="1413.2" width="13.0" height="13.0" fill="#ff0000"/><rect x="430.2" y="1398.9" width="13.0" height="13.0" fill="#ff0000"/><rect x="458.3" y="1421.8" width="13.0" height="13.0" fill="#ff0000"/><rect x="514.9" y="1430.2" width="13.0" height="13.0" fill="#ff0000"/><rect x="543.5" y="1438.4" width="13.0" height="13.0" fill="#ff0000"/><rect x="571.5" y="1422.2" width="13.0" height="13.0" fill="#ff0000"/><rect x="599.7" y="1445.4" width="13.0" height="13.0" fill="#ff0000"/><rect x="627.6" y="1430.2" width="13.0" height="13.0" fill="#ff0000"/><rect x="684.1" y="1441.3" width="13.0" height="13.0" fill="#ff0000"/><path d="M220.76 1732.37L229.54 1733.13M248.19 1729.06L259.31 1722.74M277.86 1716.11L286.14 1714.69M305.81 1711.04L341.79 1703.86M361.53 1700.76L369.57 1699.84M389.44 1697.64L398.76 1696.66M418.49 1693.57L426.91 1691.83M446.12 1686.45L455.38 1683.15M474.7 1678.37L511.5 1673.03M531.35 1670.59L540.05 1669.71M559.89 1667.25L568.11 1666.05M587.98 1665.17L596.22 1665.63M616.19 1666.52L624.11 1666.78M644.08 1667.67L680.62 1669.73" stroke="#008000" stroke-width="2.1" fill="none"/><circle cx="210.8" cy="1731.5" r="7.2" fill="#008000"/><circle cx="239.5" cy="1734" r="7.2" fill="#008000"/><circle cx="268" cy="1717.8" r="7.2" fill="#008000"/><circle cx="296" cy="1713" r="7.2" fill="#008000"/><circle cx="351.6" cy="1701.9" r="7.2" fill="#008000"/><circle cx="379.5" cy="1698.7" r="7.2" fill="#008000"/><circle cx="408.7" cy="1695.6" r="7.2" fill="#008000"/><circle cx="436.7" cy="1689.8" r="7.2" fill="#008000"/><circle cx="464.8" cy="1679.8" r="7.2" fill="#008000"/><circle cx="521.4" cy="1671.6" r="7.2" fill="#008000"/><circle cx="550" cy="1668.7" r="7.2" fill="#008000"/><circle cx="578" cy="1664.6" r="7.2" fill="#008000"/><circle cx="606.2" cy="1666.2" r="7.2" fill="#008000"/><circle cx="634.1" cy="1667.1" r="7.2" fill="#008000"/><circle cx="690.6" cy="1670.3" r="7.2" fill="#008000"/><path d="M190.82 1728.77L202.28 1721.73M220.57 1714.39L229.73 1712.41M249.5 1710.05L258 1709.85M277.86 1707.91L286.14 1706.49M304.98 1700.39L342.62 1681.91M361.53 1676.36L369.57 1675.44M387.25 1667.98L400.95 1656.82M418.45 1648.27L426.95 1646.33M445.69 1639.72L455.81 1634.78M474.8 1630.66L511.4 1631.64M531.38 1632.56L540.02 1633.14M559.86 1632.11L568.14 1630.69M587.91 1630.37L596.29 1631.53M616.16 1633.79L624.14 1634.51M644.07 1636.18L680.63 1639.02" stroke="#808080" stroke-width="2.1" fill="none"/><circle cx="182.3" cy="1734" r="7.2" fill="#808080"/><circle cx="210.8" cy="1716.5" r="7.2" fill="#808080"/><circle cx="239.5" cy="1710.3" r="7.2" fill="#808080"/><circle cx="268" cy="1709.6" r="7.2" fill="#808080"/><circle cx="296" cy="1704.8" r="7.2" fill="#808080"/><circle cx="351.6" cy="1677.5" r="7.2" fill="#808080"/><circle cx="379.5" cy="1674.3" r="7.2" fill="#808080"/><circle cx="408.7" cy="1650.5" r="7.2" fill="#808080"/><circle cx="436.7" cy="1644.1" r="7.2" fill="#808080"/><circle cx="464.8" cy="1630.4" r="7.2" fill="#808080"/><circle cx="521.4" cy="1631.9" r="7.2" fill="#808080"/><circle cx="550" cy="1633.8" r="7.2" fill="#808080"/><circle cx="578" cy="1629" r="7.2" fill="#808080"/><circle cx="606.2" cy="1632.9" r="7.2" fill="#808080"/><circle cx="634.1" cy="1635.4" r="7.2" fill="#808080"/><circle cx="690.6" cy="1639.8" r="7.2" fill="#808080"/><path d="M189.36 1726.92L203.74 1712.48M220.14 1701.82L230.16 1697.98M249.16 1696.98L258.34 1699.42M277.76 1699.84L286.24 1697.96M301.88 1687.71L345.72 1627.49M361.42 1617.5L369.68 1615.9M382.05 1604.33L406.15 1512.97M411.13 1493.6L434.27 1401.4M441.67 1383.02L459.83 1351.28M474.78 1342L511.42 1339.8M530.79 1342.65L540.61 1346.25M557.07 1342.63L570.93 1328.77M587.62 1324.43L596.58 1326.97M616.06 1331.36L624.24 1332.74M642.88 1339.19L681.82 1360.41" stroke="#000000" stroke-width="2.1" fill="none"/><circle cx="182.3" cy="1734" r="7.2" fill="#000000"/><circle cx="210.8" cy="1705.4" r="7.2" fill="#000000"/><circle cx="239.5" cy="1694.4" r="7.2" fill="#000000"/><circle cx="268" cy="1702" r="7.2" fill="#000000"/><circle cx="296" cy="1695.8" r="7.2" fill="#000000"/><circle cx="351.6" cy="1619.4" r="7.2" fill="#000000"/><circle cx="379.5" cy="1614" r="7.2" fill="#000000"/><circle cx="408.7" cy="1503.3" r="7.2" fill="#000000"/><circle cx="436.7" cy="1391.7" r="7.2" fill="#000000"/><circle cx="464.8" cy="1342.6" r="7.2" fill="#000000"/><circle cx="521.4" cy="1339.2" r="7.2" fill="#000000"/><circle cx="550" cy="1349.7" r="7.2" fill="#000000"/><circle cx="578" cy="1321.7" r="7.2" fill="#000000"/><circle cx="606.2" cy="1329.7" r="7.2" fill="#000000"/><circle cx="634.1" cy="1334.4" r="7.2" fill="#000000"/><circle cx="690.6" cy="1365.2" r="7.2" fill="#000000"/><path d="M185.67 1724.58L207.43 1663.72M214.19 1663.71L236.11 1724.59M249.5 1734L258 1734M278 1734L286 1734M306 1734L341.6 1734M353.95 1724.28L377.15 1628.12M384.01 1609.47L404.19 1569.53M413.97 1569.1L431.43 1597.2M439.67 1615.25L461.83 1686.45" stroke="#e03cf8" stroke-width="2.1" fill="none"/><circle cx="182.3" cy="1734" r="7.2" fill="#e03cf8"/><circle cx="210.8" cy="1654.3" r="7.2" fill="#e03cf8"/><circle cx="239.5" cy="1734" r="7.2" fill="#e03cf8"/><circle cx="268" cy="1734" r="7.2" fill="#e03cf8"/><circle cx="296" cy="1734" r="7.2" fill="#e03cf8"/><circle cx="351.6" cy="1734" r="7.2" fill="#e03cf8"/><circle cx="379.5" cy="1618.4" r="7.2" fill="#e03cf8"/><circle cx="408.7" cy="1560.6" r="7.2" fill="#e03cf8"/><circle cx="436.7" cy="1605.7" r="7.2" fill="#e03cf8"/><circle cx="464.8" cy="1696" r="7.2" fill="#e03cf8"/><path d="M185.71 1334.13L207.39 1387.17M216.9 1402.12L373.4 1571.88M381.75 1587.21L406.45 1682.79M413.95 1698.81L431.45 1723.19M445.7 1730.5L455.8 1730.5" stroke="#00009a" stroke-width="2.1" fill="none"/><path d="M173.8 1320.6L190.8 1320.6L182.3 1336ZM202.3 1390.3L219.3 1390.3L210.8 1405.7ZM371 1573.3L388 1573.3L379.5 1588.7ZM400.2 1686.3L417.2 1686.3L408.7 1701.7ZM428.2 1725.3L445.2 1725.3L436.7 1740.7ZM456.3 1725.3L473.3 1725.3L464.8 1740.7Z" fill="#0000a8"/></g><rect x="229" y="1215.4" width="151" height="179.6" fill="#fff" stroke="#555" stroke-width="1.6"/><path d="M231.5 1231.6H249.5M267.5 1231.6H285.5" stroke="#ff0000" stroke-width="2"/><rect x="252" y="1225.1" width="13.0" height="13.0" fill="#ff0000"/><text transform="translate(290.5 1239.6) scale(1 1.03)" font-family='"Liberation Serif", serif' font-size="23.8" text-anchor="start" fill="#000" stroke="#000" stroke-width="0.2" font-weight="normal">OD</text><path d="M231.5 1261.6H249.5M267.5 1261.6H285.5" stroke="#008000" stroke-width="2"/><circle cx="258.5" cy="1261.6" r="6.8" fill="#008000"/><text transform="translate(290.5 1269.6) scale(1 1.03)" font-family='"Liberation Serif", serif' font-size="23.8" text-anchor="start" fill="#000" stroke="#000" stroke-width="0.2" font-weight="normal">7-Br-Trp</text><path d="M231.5 1291.6H249.5M267.5 1291.6H285.5" stroke="#808080" stroke-width="2"/><circle cx="258.5" cy="1291.6" r="6.8" fill="#808080"/><text transform="translate(290.5 1299.6) scale(1 1.03)" font-family='"Liberation Serif", serif' font-size="23.8" text-anchor="start" fill="#000" stroke="#000" stroke-width="0.2" font-weight="normal">Trp</text><path d="M231.5 1320.6H249.5M267.5 1320.6H285.5" stroke="#000000" stroke-width="2"/><circle cx="258.5" cy="1320.6" r="6.8" fill="#000000"/><text transform="translate(290.5 1328.6) scale(1 1.03)" font-family='"Liberation Serif", serif' font-size="23.8" text-anchor="start" fill="#000" stroke="#000" stroke-width="0.2" font-weight="normal">Ant</text><path d="M231.5 1350H249.5M267.5 1350H285.5" stroke="#e03cf8" stroke-width="2"/><circle cx="258.5" cy="1350" r="6.8" fill="#e03cf8"/><text transform="translate(290.5 1358) scale(1 1.03)" font-family='"Liberation Serif", serif' font-size="23.8" text-anchor="start" fill="#000" stroke="#000" stroke-width="0.2" font-weight="normal">Lac</text><path d="M231.5 1379.6H249.5M267.5 1379.6H285.5" stroke="#0000a8" stroke-width="2"/><path d="M250.5 1374.5L266.5 1374.5L258.5 1389.5Z" fill="#0000a8"/><text transform="translate(290.5 1387.6) scale(1 1.03)" font-family='"Liberation Serif", serif' font-size="23.8" text-anchor="start" fill="#000" stroke="#000" stroke-width="0.2" font-weight="normal">Glu</text>
</svg>
</body></html>
